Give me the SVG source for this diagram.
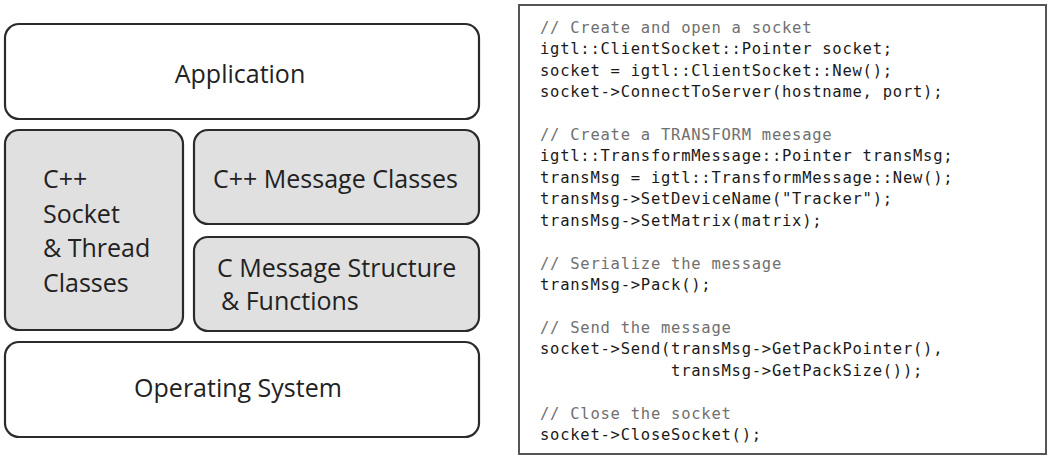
<svg xmlns="http://www.w3.org/2000/svg" width="1050" height="458" viewBox="0 0 1050 458">
<style>
.box{stroke:#2b2b2b;stroke-width:2.2}
.white{fill:#ffffff}
.gray{fill:#e0e0e0}
.lbl{font-family:"Open Sans","Noto Sans",sans-serif;font-size:25px;fill:#222}
.code{font-family:"DejaVu Sans Mono","Liberation Mono",monospace;font-size:15.5px;letter-spacing:0.75px;fill:#1a1a1a}
.cmt{fill:#707070}
.panel{fill:#fff;stroke:#555;stroke-width:2}
</style>
<rect width="1050" height="458" fill="#fff"/>
<g id="application">
<rect class="box white" x="5" y="24" width="474" height="95" rx="14"/>
<text class="lbl" x="240" y="83" text-anchor="middle">Application</text>
</g>
<g id="socket-thread">
<rect class="box gray" x="5" y="130" width="178" height="200" rx="14"/>
<text class="lbl" x="43" y="188">C++</text>
<text class="lbl" x="43" y="223">Socket</text>
<text class="lbl" x="43" y="257">&amp; Thread</text>
<text class="lbl" x="43" y="292">Classes</text>
</g>
<g id="cpp-message">
<rect class="box gray" x="194" y="130" width="285" height="94" rx="14"/>
<text class="lbl" x="213" y="188">C++ Message Classes</text>
</g>
<g id="c-message">
<rect class="box gray" x="194" y="237" width="285" height="94" rx="14"/>
<text class="lbl" x="217" y="277">C Message Structure</text>
<text class="lbl" x="221" y="310">&amp; Functions</text>
</g>
<g id="os">
<rect class="box white" x="5" y="342" width="474" height="95" rx="14"/>
<text class="lbl" x="238" y="397" text-anchor="middle">Operating System</text>
</g>
<g id="code-panel">
<rect class="panel" x="519" y="5" width="527" height="449"/>
<text class="code cmt" x="540" y="32.5">// Create and open a socket</text>
<text class="code" x="540" y="54">igtl::ClientSocket::Pointer socket;</text>
<text class="code" x="540" y="75.5">socket = igtl::ClientSocket::New();</text>
<text class="code" x="540" y="97">socket-&gt;ConnectToServer(hostname, port);</text>
<text class="code cmt" x="540" y="139.8">// Create a TRANSFORM meesage</text>
<text class="code" x="540" y="161.2">igtl::TransformMessage::Pointer transMsg;</text>
<text class="code" x="540" y="182.7">transMsg = igtl::TransformMessage::New();</text>
<text class="code" x="540" y="204.1">transMsg-&gt;SetDeviceName("Tracker");</text>
<text class="code" x="540" y="225.5">transMsg-&gt;SetMatrix(matrix);</text>
<text class="code cmt" x="540" y="268.5">// Serialize the message</text>
<text class="code" x="540" y="289.9">transMsg-&gt;Pack();</text>
<text class="code cmt" x="540" y="332.8">// Send the message</text>
<text class="code" x="540" y="354.2">socket-&gt;Send(transMsg-&gt;GetPackPointer(),</text>
<text class="code" x="540" y="375.7" xml:space="preserve">             transMsg-&gt;GetPackSize());</text>
<text class="code cmt" x="540" y="418.6">// Close the socket</text>
<text class="code" x="540" y="440">socket-&gt;CloseSocket();</text>
</g>
</svg>
